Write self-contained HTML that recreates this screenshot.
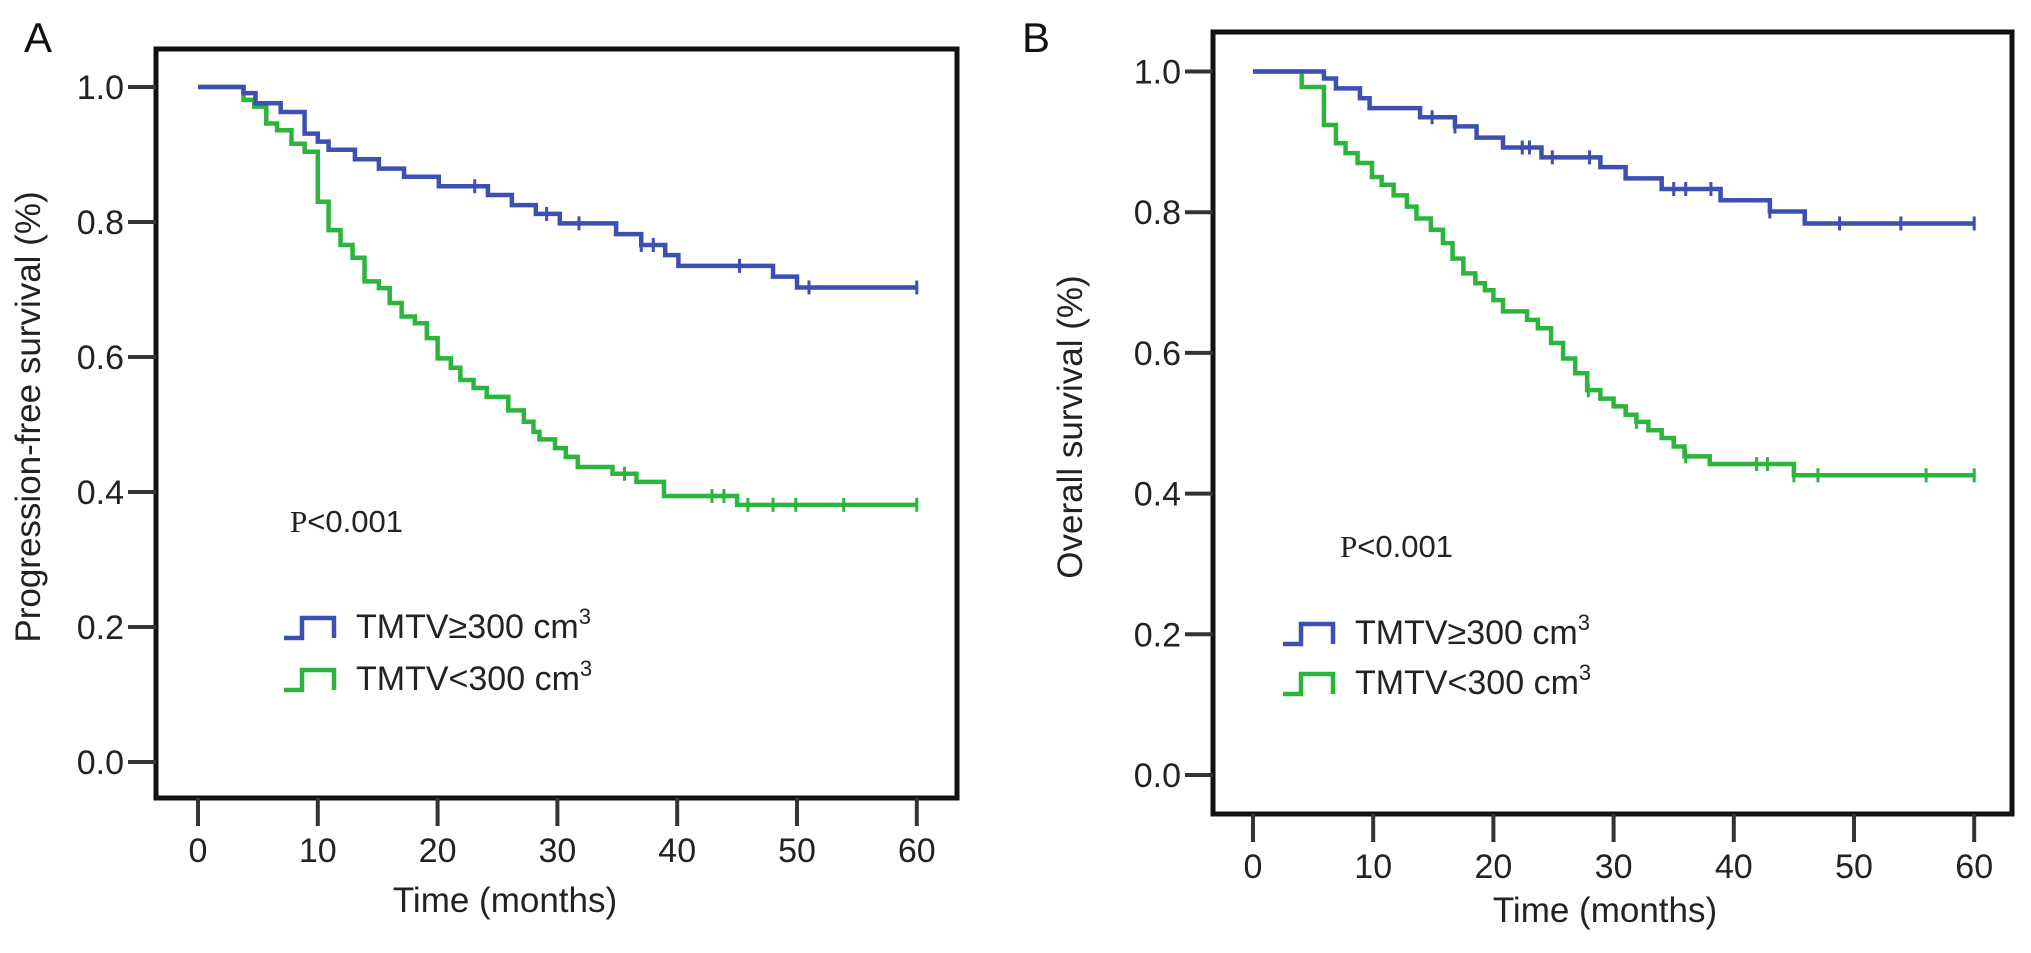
<!DOCTYPE html>
<html><head><meta charset="utf-8"><style>
html,body{margin:0;padding:0;background:#fff;}
svg{display:block;font-family:"Liberation Sans",sans-serif;}
</style></head><body>
<svg id="fig" width="2031" height="953" viewBox="0 0 2031 953"></svg>
<script>
// ---- data ----
const xTicks = [0,10,20,30,40,50,60];
const yTicks = [0.0,0.2,0.4,0.6,0.8,1.0];
const yTickLabels = ["0.0","0.2","0.4","0.6","0.8","1.0"];

const aHighTimes = [0,3.8,4.8,6.9,8.9,10.0,10.9,13.1,15.1,17.2,20.1,24.2,26.2,28.2,30.2,34.9,37.0,39.0,40.1,48.0,50.0];
const aHighSurv  = [1,0.991,0.976,0.963,0.931,0.919,0.907,0.893,0.879,0.867,0.853,0.840,0.825,0.812,0.798,0.782,0.766,0.751,0.735,0.719,0.703];
const aHighCens  = [23.1,29.1,31.8,37.0,38.0,45.2,51.0,60];

const aLowTimes = [0,3.8,4.7,5.7,6.6,7.8,8.9,10.0,10.9,11.9,12.9,13.9,15.1,16.0,17.0,18.1,19.1,20.0,21.1,21.9,23.0,24.1,25.9,27.2,28.0,28.5,29.8,30.7,31.7,34.6,36.6,38.9,45.0];
const aLowSurv  = [1,0.981,0.971,0.946,0.936,0.916,0.904,0.830,0.788,0.766,0.747,0.712,0.702,0.680,0.660,0.650,0.628,0.598,0.584,0.566,0.554,0.541,0.521,0.504,0.489,0.478,0.465,0.452,0.437,0.427,0.415,0.394,0.381];
const aLowCens  = [35.6,42.9,43.9,45.9,48.0,49.9,53.9,60];

const bHighTimes = [0,5.9,6.9,8.9,9.7,13.9,16.8,18.6,20.8,24.0,28.9,31.0,34.0,38.9,43.0,45.9];
const bHighSurv  = [1,0.990,0.976,0.962,0.948,0.935,0.922,0.906,0.892,0.878,0.864,0.848,0.833,0.817,0.801,0.784];
const bHighCens  = [14.9,16.8,22.4,23.0,24.9,28.0,35.0,36.0,38.1,43.0,48.8,53.9,60];

const bLowTimes = [0,4.05,5.9,6.9,7.7,8.7,9.9,10.7,11.7,12.8,13.6,14.8,15.8,16.6,17.5,18.5,19.3,20.0,20.8,22.8,23.7,24.8,25.8,26.8,27.8,28.9,30.0,31.0,31.9,32.9,34.0,35.0,35.9,38.0,45.0];
const bLowSurv  = [1,0.978,0.924,0.898,0.884,0.870,0.850,0.839,0.824,0.808,0.791,0.775,0.756,0.734,0.713,0.699,0.689,0.675,0.659,0.647,0.635,0.614,0.592,0.571,0.547,0.535,0.524,0.512,0.502,0.490,0.479,0.467,0.453,0.442,0.426];
const bLowCens  = [27.9,31.9,36.0,41.9,42.8,45.0,47.0,56.0,60];

const BLUE="#3d4fb3", GREEN="#2cb53c";
const NS="http://www.w3.org/2000/svg";
const svg=document.getElementById('fig');
function mk(tag,attrs,parent){const e=document.createElementNS(NS,tag);for(const k in attrs)e.setAttribute(k,attrs[k]);(parent||svg).appendChild(e);return e;}

function panel(cfg){
  const g=mk('g',{});
  
  
  const X=m=>cfg.x0+m*cfg.xs;
  const Y=v=>cfg.y0-v*cfg.ys;
  const fr=mk('rect',{x:cfg.L,y:cfg.T,width:cfg.R-cfg.L,height:cfg.B-cfg.T,fill:"none",stroke:"#111","stroke-width":5},g);
  
  
  yTicks.forEach((v,i)=>{
    const t=mk('line',{x1:cfg.L-28,x2:cfg.L,y1:Y(v),y2:Y(v),stroke:"#333","stroke-width":4},g);
    
    
    const l=mk('text',{x:cfg.L-32,y:Y(v)+12,"text-anchor":"end","font-size":34,fill:"#222"},g);
    
    
    l.textContent=yTickLabels[i];
  });
  xTicks.forEach(m=>{
    const t=mk('line',{x1:X(m),x2:X(m),y1:cfg.B,y2:cfg.B+28,stroke:"#333","stroke-width":4},g);
    
    
    const l=mk('text',{x:X(m),y:cfg.B+64,"text-anchor":"middle","font-size":34,fill:"#222"},g);
    
    
    l.textContent=String(m);
  });
  const xt=mk('text',{x:cfg.xtX,y:cfg.xtY,"text-anchor":"middle","font-size":35,fill:"#222"},g);
  
  
  xt.textContent="Time (months)";
  const yt=mk('text',{x:0,y:0,"text-anchor":"middle","font-size":35,fill:"#222",transform:`translate(${cfg.ytX},${cfg.ytY}) rotate(-90)`},g);
  
  
  yt.textContent=cfg.ytitle;
  const pl=mk('text',{x:cfg.letX,y:cfg.letY,"font-size":42,fill:"#111"},g);
  
  
  pl.textContent=cfg.letter;
  function curve(times,surv,cens,color,nm){
    let d=`M${X(times[0])},${Y(surv[0])}`;
    for(let i=1;i<times.length;i++){d+=` H${X(times[i])} V${Y(surv[i])}`;}
    const end=cens[cens.length-1];
    d+=` H${X(end)}`;
    const p=mk('path',{d:d,fill:"none",stroke:color,"stroke-width":4.5},g);
    
    
    cens.forEach(c=>{
      let s=surv[0];
      for(let i=0;i<times.length;i++){if(times[i]<=c)s=surv[i];}
      const cm=mk('line',{x1:X(c),x2:X(c),y1:Y(s)-7,y2:Y(s)+7,stroke:color,"stroke-width":3},g);
      
      
    });
  }
  curve(cfg.lowT,cfg.lowS,cfg.lowC,GREEN,'tmtv-low');
  curve(cfg.highT,cfg.highS,cfg.highC,BLUE,'tmtv-high');
  const pv=mk('text',{x:cfg.pX,y:cfg.pY,"font-size":31,fill:"#222"},g);
  
  
  pv.innerHTML='<tspan font-family="Liberation Serif,serif">P</tspan>&lt;0.001';
  [[BLUE,"TMTV≥300 cm",cfg.lgY1,'legend-entry-high'],[GREEN,"TMTV<300 cm",cfg.lgY2,'legend-entry-low']].forEach(([c,t,by,nm])=>{
    const lg=mk('g',{},g);
    
    
    const x=cfg.lgX;
    mk('path',{d:`M${x},${by} H${x+18} V${by-20} H${x+50} V${by}`,fill:"none",stroke:c,"stroke-width":4.5},lg);
    const tx=mk('text',{x:x+72,y:by,"font-size":34,fill:"#222"},lg);
    tx.textContent=t;
    const sup=mk('tspan',{dy:-14,"font-size":22},tx);
    sup.textContent="3";
  });
}

panel({name:'panel-a-progression-free',L:156,T:49,R:957,B:798,x0:198,xs:11.98,y0:762,ys:675,
  xtX:505,xtY:912,ytX:40,ytY:417,ytitle:"Progression-free survival (%)",letter:"A",letX:24,letY:52,
  highT:aHighTimes,highS:aHighSurv,highC:aHighCens,lowT:aLowTimes,lowS:aLowSurv,lowC:aLowCens,
  pX:290,pY:532,lgX:284,lgY1:638,lgY2:690});
panel({name:'panel-b-overall',L:1213,T:32,R:2012,B:814,x0:1253,xs:12.02,y0:775,ys:703.5,
  xtX:1605,xtY:922,ytX:1082,ytY:427,ytitle:"Overall survival (%)",letter:"B",letX:1022,letY:52,
  highT:bHighTimes,highS:bHighSurv,highC:bHighCens,lowT:bLowTimes,lowS:bLowSurv,lowC:bLowCens,
  pX:1340,pY:557,lgX:1283,lgY1:644,lgY2:694});
</script>
</body></html>
